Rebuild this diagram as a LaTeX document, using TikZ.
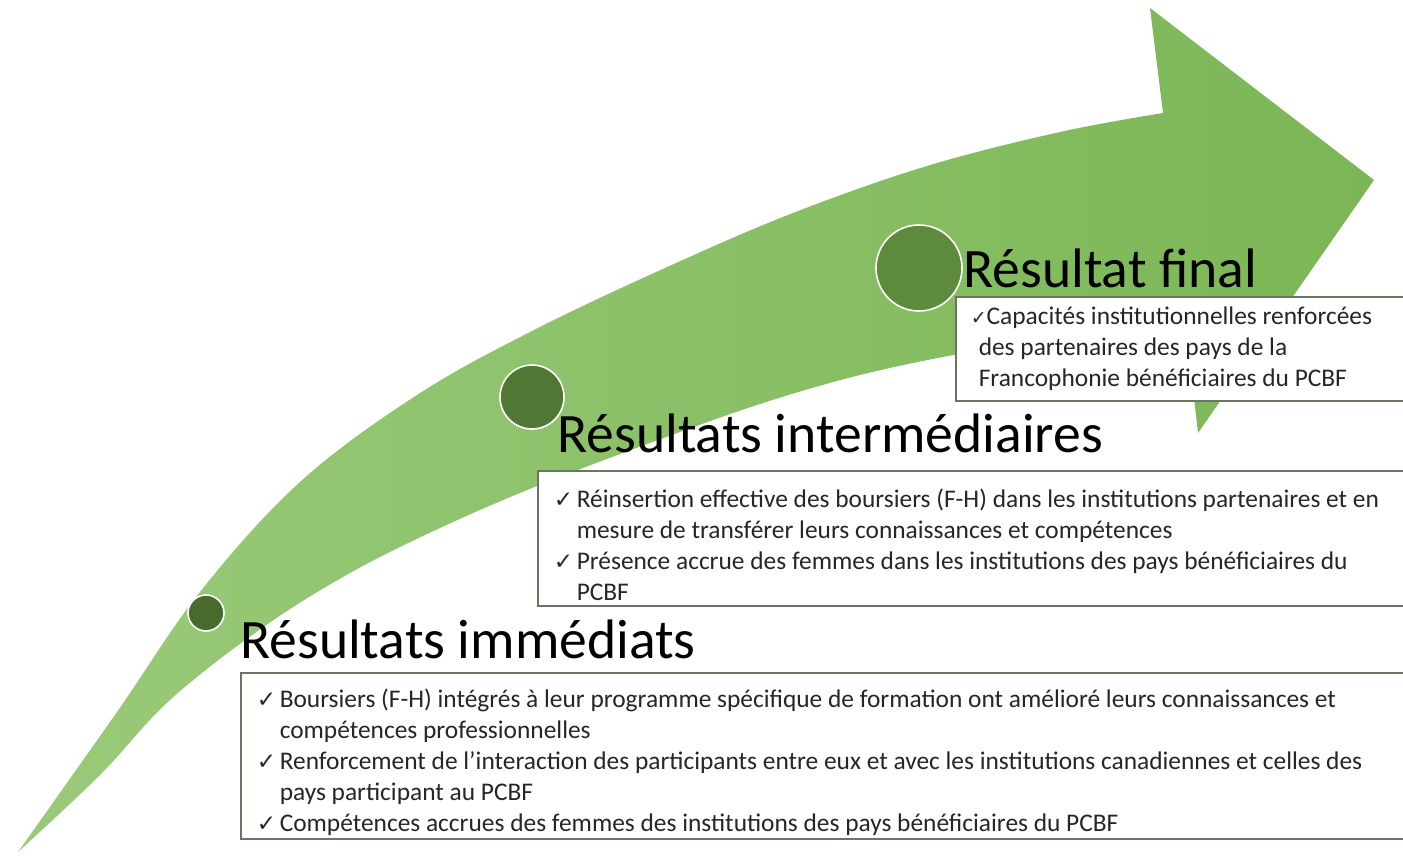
\documentclass[tikz,border=0pt]{standalone}
\usepackage{fontspec}
\setmainfont{Carlito}
\newfontfamily\symfont{DejaVu Sans}

\definecolor{arrowlight}{HTML}{9ACA79}
\definecolor{arrowdark}{HTML}{7BB656}
\definecolor{dotone}{HTML}{486B2D}
\definecolor{dottwo}{HTML}{507834}
\definecolor{dotthree}{HTML}{5E8A3D}
\definecolor{boxgray}{HTML}{6B7561}

% check mark and hanging bullet line
\newcommand{\chk}{{\symfont\fontsize{11.5}{11.5}\selectfont ✓}}
\newcommand{\resitem}[1]{\par\hangindent=11.5pt\hangafter=1\noindent\makebox[11.5pt][l]{\chk}#1\par}

\tikzset{
	resbox/.style={draw=boxgray, line width=0.75pt, fill=white, anchor=north west,
		inner xsep=8pt, inner ysep=0pt, align=flush left, text=black!85,
		font=\fontsize{12.7}{15.5}\selectfont},
	restitle/.style={anchor=base west, inner sep=0pt, font=\fontsize{27.8}{27.8}\selectfont},
	milestone/.style={circle, draw=white, line width=0.8pt, inner sep=0pt}
}

\begin{document}
\begin{tikzpicture}[x=0.5pt,y=-0.5pt]

	\useasboundingbox (0,0) rectangle (1403,857);

	% curved arrow
	\coordinate (tail) at (18,852);
	\coordinate (notchup) at (1163,113);
	\coordinate (barbup) at (1150,8);
	\coordinate (tip) at (1374,180);
	\coordinate (barblow) at (1198,433);
	\coordinate (notchlow) at (1185,318);

	\shade[left color=arrowlight, right color=arrowdark]
		(tail) -- plot[smooth, tension=0.6] coordinates {(18,852) (117,712) (200,592)
			(300,482) (417,395) (532,331) (665,268) (793,213) (927,166) (1060,132)
			(1163,113)}
		-- (barbup) -- (tip) -- (barblow) -- (notchlow)
		-- plot[smooth, tension=0.6] coordinates {(1185,318) (1080,334) (964,353)
			(860,375) (760,404) (650,443) (537,486) (440,528) (350,573) (262,628)
			(170,700) (100,775) (18,852)}
		-- cycle;

	% milestones
	\node[milestone, fill=dotone, minimum size=18pt] (dotimm) at (206,613) {};
	\node[milestone, fill=dottwo, minimum size=32pt] (dotint) at (532,397) {};
	\node[milestone, fill=dotthree, minimum size=43pt] (dotfin) at (919,268) {};

	% result boxes
	\node[resbox, text width=569pt, minimum height=83pt] (boximm) at (240,672) {%
		\resitem{Boursiers (F-H) intégrés à leur programme spécifique de formation ont amélioré leurs connaissances et\newline
			compétences professionnelles}
		\resitem{Renforcement de l’interaction des participants entre eux et avec les institutions canadiennes et celles des\newline
			pays participant au PCBF}
		\resitem{Compétences accrues des femmes des institutions des pays bénéficiaires du PCBF}};

	\node[resbox, text width=420.5pt, minimum height=67.5pt] (boxint) at (537,470) {%
		\resitem{Réinsertion effective des boursiers (F-H) dans les institutions partenaires et en\newline
			mesure de transférer leurs connaissances et compétences}
		\resitem{Présence accrue des femmes dans les institutions des pays bénéficiaires du\newline
			PCBF}};

	\node[resbox, text width=212pt, minimum height=52pt, inner xsep=7.5pt] (boxfin) at (955,296) {%
		\hangindent=4pt\hangafter=1\noindent{\symfont\fontsize{9.5}{9.5}\selectfont ✓}Capacités institutionnelles renforcées\newline
		des partenaires des pays de la\newline
		Francophonie bénéficiaires du PCBF\par};

	% titles
	\node[restitle] (titimm) at (240,658) {Résultats immédiats};
	\node[restitle] (titint) at (557,452) {Résultats intermédiaires};
	\node[restitle] (titfin) at (963,287) {Résultat final};

\end{tikzpicture}
\end{document}
